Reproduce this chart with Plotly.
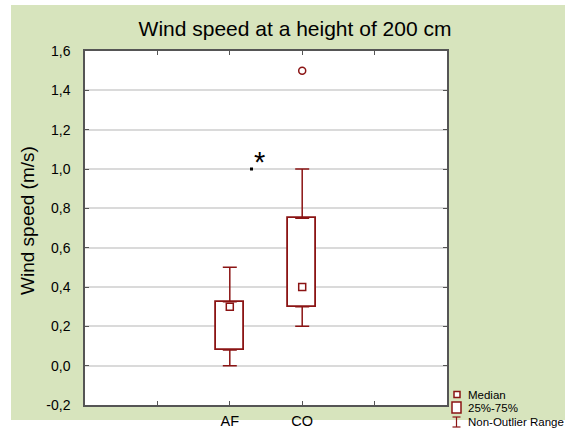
import plotly.graph_objects as go

# ---- data ----
categories = ["AF", "CO"]
q1 = [0.08, 0.30]
q3 = [0.325, 0.75]
medians = [0.30, 0.40]
whisker_low = [0.0, 0.20]
whisker_high = [0.50, 1.00]
outlier_cat = ["CO"]
outlier_val = [1.50]
signif_x = [0.30]
signif_y = [1.00]
y_tickvals = [-0.2, 0.0, 0.2, 0.4, 0.6, 0.8, 1.0, 1.2, 1.4, 1.6]
y_ticktext = ["-0,2", "0,0", "0,2", "0,4", "0,6", "0,8", "1,0", "1,2", "1,4", "1,6"]

W, H = 565, 432
L, R, T, B = 85, 447, 51, 405  # plot area in px

pos = {c: i for i, c in enumerate(categories)}
xs = [pos[c] for c in categories]

RED = "#8B1414"
FONT = "Liberation Sans, Arial, sans-serif"

def px_x(p):
    return (p - L) / (R - L)

def px_y(p):
    return (B - p) / (B - T)

fig = go.Figure()

# boxes (25%-75%)
fig.add_trace(go.Bar(
    x=xs, y=[b - a for a, b in zip(q1, q3)], base=q1, width=0.39,
    marker=dict(color="white", line=dict(color=RED, width=1.8)),
    showlegend=False, hoverinfo="skip"))

# upper whiskers
fig.add_trace(go.Scatter(
    x=xs, y=q3, mode="markers", marker=dict(size=1, opacity=0),
    error_y=dict(type="data", symmetric=False,
                 array=[h - a for h, a in zip(whisker_high, q3)],
                 arrayminus=[0] * len(xs), color=RED, thickness=1.5, width=7),
    showlegend=False, hoverinfo="skip"))
# lower whiskers
fig.add_trace(go.Scatter(
    x=xs, y=q1, mode="markers", marker=dict(size=1, opacity=0),
    error_y=dict(type="data", symmetric=False,
                 array=[0] * len(xs),
                 arrayminus=[a - l for a, l in zip(q1, whisker_low)],
                 color=RED, thickness=1.5, width=7),
    showlegend=False, hoverinfo="skip"))

# medians
fig.add_trace(go.Scatter(
    x=xs, y=medians, mode="markers",
    marker=dict(symbol="square-open", size=7, color=RED, line=dict(width=1.5)),
    showlegend=False, hoverinfo="skip"))

# outliers
fig.add_trace(go.Scatter(
    x=[pos[c] for c in outlier_cat], y=outlier_val, mode="markers",
    marker=dict(symbol="circle-open", size=7, color=RED, line=dict(width=1.5)),
    showlegend=False, hoverinfo="skip"))

# significance marker
fig.add_trace(go.Scatter(
    x=signif_x, y=signif_y, mode="markers",
    marker=dict(symbol="square", size=3, color="black"),
    showlegend=False, hoverinfo="skip"))
fig.add_annotation(x=signif_x[0], y=signif_y[0], xref="x", yref="y",
                   text="*", showarrow=False, xanchor="left", yanchor="bottom",
                   xshift=0, yshift=-11, font=dict(family=FONT, size=29, color="black"))

shapes = [
    dict(type="rect", xref="paper", yref="paper", layer="below",
         x0=px_x(11), x1=px_x(566), y0=px_y(420), y1=px_y(5),
         fillcolor="#D7E4BD", line=dict(width=0)),
    dict(type="rect", xref="paper", yref="paper", layer="below",
         x0=0, x1=1, y0=0, y1=1, fillcolor="white", line=dict(width=0)),
    # legend symbols
    dict(type="rect", xref="paper", yref="paper",
         x0=px_x(454), x1=px_x(460), y0=px_y(397.5), y1=px_y(391.5),
         line=dict(color=RED, width=1.5), fillcolor="white"),
    dict(type="rect", xref="paper", yref="paper",
         x0=px_x(452), x1=px_x(461), y0=px_y(413), y1=px_y(402),
         line=dict(color=RED, width=1.5), fillcolor="white"),
    dict(type="line", xref="paper", yref="paper",
         x0=px_x(456.5), x1=px_x(456.5), y0=px_y(427), y1=px_y(417),
         line=dict(color=RED, width=1.2)),
    dict(type="line", xref="paper", yref="paper",
         x0=px_x(452.5), x1=px_x(460.5), y0=px_y(417), y1=px_y(417),
         line=dict(color=RED, width=1.2)),
    dict(type="line", xref="paper", yref="paper",
         x0=px_x(452.5), x1=px_x(460.5), y0=px_y(427), y1=px_y(427),
         line=dict(color=RED, width=1.2)),
]

for txt, yc in [("Median", 394.5), ("25%-75%", 408), ("Non-Outlier Range", 422)]:
    fig.add_annotation(x=px_x(466), y=px_y(yc), xref="paper", yref="paper",
                       text=txt, showarrow=False, xanchor="left", yanchor="middle",
                       font=dict(family=FONT, size=11.5, color="black"))

# y axis title
fig.add_annotation(x=px_x(27), y=px_y(221), xref="paper", yref="paper",
                   text="Wind speed (m/s)", showarrow=False, textangle=-90,
                   xanchor="center", yanchor="middle",
                   font=dict(family=FONT, size=19, color="black"))

x_tickvals = list(range(-2, 4))
x_ticktext = [categories[v] if 0 <= v < len(categories) else "" for v in x_tickvals]

fig.update_layout(
    width=W, height=H,
    margin=dict(l=L, r=W - R, t=T, b=H - B, pad=0, autoexpand=False),
    paper_bgcolor="white", plot_bgcolor="white",
    font=dict(family=FONT, size=14, color="black"),
    title=dict(text="Wind speed at a height of 200 cm", x=295 / W, xanchor="center",
               y=1 - 29 / H, yanchor="middle",
               font=dict(family=FONT, size=21, color="black")),
    shapes=shapes,
    showlegend=False,
    xaxis=dict(range=[-2, 3], tickvals=x_tickvals, ticktext=x_ticktext,
               showgrid=False, zeroline=False, showline=True, linecolor="#555555",
               linewidth=1.5, mirror="ticks", ticks="inside", ticklen=4,
               tickcolor="#555555", tickfont=dict(size=14.5), ticklabelstandoff=2,
               automargin=False),
    yaxis=dict(range=[-0.2, 1.6], tickvals=y_tickvals, ticktext=y_ticktext,
               showgrid=True, gridcolor="#DADADA", gridwidth=1.5, zeroline=False,
               showline=True, linecolor="#555555", linewidth=1.5, mirror="ticks",
               ticks="inside", ticklen=4, tickcolor="#555555",
               ticklabelstandoff=10, tickfont=dict(size=14), automargin=False),
    bargap=0,
)

fig.write_html("out.html")
